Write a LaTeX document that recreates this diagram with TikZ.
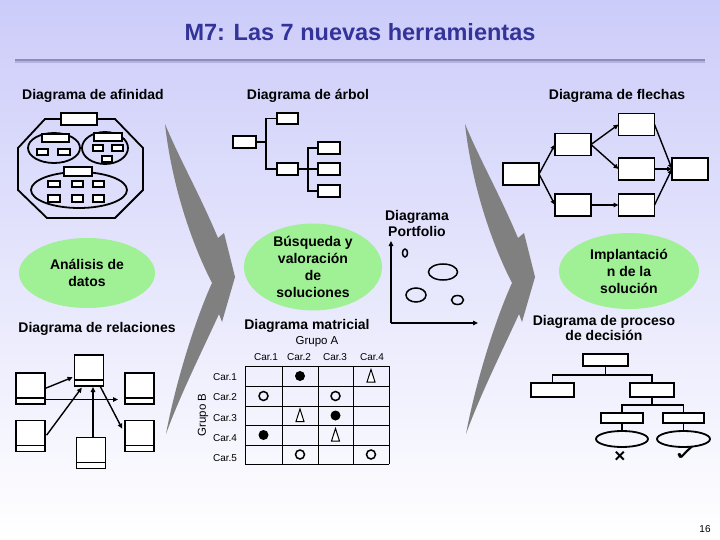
\documentclass[tikz,border=0pt]{standalone}
\usepackage{fontspec}
\setmainfont{Liberation Sans}
\newfontfamily\dejavu{DejaVu Sans}
\usetikzlibrary{shapes.geometric,arrows.meta}
\definecolor{bgtop}{RGB}{204,204,250}
\definecolor{titlec}{RGB}{51,51,153}
\definecolor{gfill}{RGB}{160,240,150}
\definecolor{agray}{RGB}{128,128,128}
\definecolor{linec}{RGB}{140,140,180}
\begin{document}
\begin{tikzpicture}[x=1pt,y=-1pt,
  hdr/.style={font=\fontsize{14}{16}\selectfont\bfseries, inner sep=0, align=center},
  gell/.style={ellipse, fill=gfill, inner sep=0, font=\fontsize{14}{17}\selectfont\bfseries, align=center},
  thk/.style={line width=1.8pt},
  bx/.style={draw, line width=1.8pt, fill=white, inner sep=0, outer sep=0},
  arr/.style={line width=1.4pt, -{Triangle[length=5pt,width=4.5pt]}},
  sm/.style={font=\fontsize{10}{12}\selectfont, inner sep=0},
  gridl/.style={line width=0.9pt},
  oc/.style={draw, line width=1.5pt},
  bigarrow/.style={fill=agray}
]
\shade[top color=bgtop, bottom color=white] (0,0) rectangle (720,540);
\useasboundingbox (0,0) rectangle (720,540);

% title
\node[font=\fontsize{23.5}{28}\selectfont\bfseries, text=titlec, inner sep=0] (title) at (360,32) {M7: Las 7 nuevas herramientas};
\draw[line width=1.5pt, color=linec!40!bgtop] (15,62) -- (705,62);
\draw[line width=2pt, color=linec] (15,60) -- (705,60);

% headings
\node[hdr] (hafin) at (93,96) {Diagrama de afinidad};
\node[hdr] (harbol) at (308,96) {Diagrama de árbol};
\node[hdr] (hflech) at (617,96) {Diagrama de flechas};
\node[hdr] (hrel) at (97,329) {Diagrama de relaciones};
\node[hdr] (hmat) at (307,326) {Diagrama matricial};
\node[hdr, font=\fontsize{14}{16}\selectfont\bfseries] (hport) at (417,223) {Diagrama\\Portfolio};
\node[hdr, font=\fontsize{14}{15}\selectfont\bfseries] (hpdpc) at (604,328) {Diagrama de proceso\\de decisión};

% green ellipses
\node[gell, minimum width=136, minimum height=70] (e1) at (87,273) {Análisis de\\datos};
\node[gell, minimum width=138, minimum height=86] (e2) at (313,267) {Búsqueda y\\valoración\\de\\soluciones};
\node[gell, minimum width=140, minimum height=76] (e3) at (629,271) {Implantació\\n de la\\solución};

% big gray arrows
\fill[bigarrow] (165,124) .. controls (180,160) and (200,195) .. (218,238) -- (224,233) -- (235,277) -- (222,322) -- (219,314) .. controls (205,345) and (180,395) .. (166,434) .. controls (175,385) and (195,320) .. (212,283) .. controls (185,230) and (170,170) .. (165,124) -- cycle;
\begin{scope}[xshift=300pt]
\fill[bigarrow] (165,124) .. controls (180,160) and (200,195) .. (218,238) -- (224,233) -- (235,277) -- (222,322) -- (219,314) .. controls (205,345) and (180,395) .. (166,434) .. controls (175,385) and (195,320) .. (212,283) .. controls (185,230) and (170,170) .. (165,124) -- cycle;
\end{scope}

% affinity diagram
\draw[thk] (45,119) -- (115,119) -- (143,148) -- (143,190) -- (115,218) -- (47,218) -- (18,190) -- (18,148) -- cycle;
\draw[thk] (54,148) ellipse [x radius=26, y radius=15];
\draw[thk] (105,148) ellipse [x radius=23, y radius=16];
\draw[thk] (79,190) ellipse [x radius=48, y radius=18];
\draw[thk, fill=white] (61,113) rectangle (97,125);
\draw[thk, fill=white] (42,134) rectangle (69,142);
\draw[thk, fill=white] (37,149) rectangle (48,155);
\draw[thk, fill=white] (58,149) rectangle (70,155);
\draw[thk, fill=white] (94,133) rectangle (122,141);
\draw[thk, fill=white] (93,145) rectangle (103,151);
\draw[thk, fill=white] (112,145) rectangle (123,151);
\draw[thk, fill=white] (102,156) rectangle (112,162);
\draw[thk, fill=white] (64,167) rectangle (92,176);
\foreach \xa/\xb in {48/60,72/83,93/104}{
  \draw[thk, fill=white] (\xa,181) rectangle (\xb,187);
  \draw[thk, fill=white] (\xa,195) rectangle (\xb,202);
}

% tree diagram
\node[bx, minimum width=23, minimum height=12] (t0) at (244.5,142) {};
\node[bx, minimum width=21, minimum height=11] (t1) at (287.5,118.5) {};
\node[bx, minimum width=21, minimum height=12] (t2) at (287.5,169) {};
\node[bx, minimum width=22, minimum height=12] (t3) at (329,148) {};
\node[bx, minimum width=22, minimum height=12] (t4) at (329,169) {};
\node[bx, minimum width=22, minimum height=12] (t5) at (329,191) {};
\coordinate (tj1) at (266,142);
\coordinate (tj2) at (308,169);
\draw[thk] (t0.east) -- (tj1);
\draw[thk] (t1.west) -| (tj1);
\draw[thk] (t2.west) -| (tj1);
\draw[thk] (t2.east) -- (tj2);
\draw[thk] (t3.west) -| (tj2);
\draw[thk] (t4.west) -- (tj2);
\draw[thk] (t5.west) -| (tj2);

% arrow diagram
\foreach \n/\x/\y in {fa/521/174, fb/573/144.5, fc/573/205, fd/636.5/124.5, fe/636.5/169, ff/636.5/205, fg/690/169}
  \node[bx, minimum width=36, minimum height=22] (\n) at (\x,\y) {};
\draw[arr] (fa.east) -- (fb.west);
\draw[arr] (fa.east) -- (fc.west);
\draw[arr] (fb.east) -- (fd.west);
\draw[arr] (fb.east) -- (fe.west);
\draw[arr] (fc.east) -- (ff.west);
\draw[arr] (fd.east) -- (fg.west);
\draw[arr] (fe.east) -- (fg.west);
\draw[arr] (ff.east) -- (fg.west);

% relations diagram
\foreach \n/\x/\y in {r1/30.5/388.5, rt/89/370.5, r3/139.5/388.5, r4/30.5/436, r5/139.5/436, rb/91/453}{
  \node[bx, fill=white, minimum width=29, minimum height=31] (\n) at (\x,\y) {};
  \draw[thk] ([yshift=6pt]\n.south west) -- ([yshift=6pt]\n.south east);
}
\draw[arr, shorten >=2pt] (r1.east) -- ([yshift=-6pt]rt.west);
\draw[arr, shorten >=7pt] ([yshift=-11pt]r1.east) -- ([yshift=-11pt]r3.west);
\draw[arr, shorten <=1pt, shorten >=2pt] ([xshift=1pt]r4.east) -- ([xshift=-6pt]rt.south);
\draw[arr, shorten >=1pt] ([xshift=2pt]rb.north) -- ([xshift=4pt]rt.south);
\draw[arr, shorten >=6pt] ([xshift=11pt]rt.south) -- ([yshift=2pt]r5.west);

% matrix diagram
\node[font=\fontsize{11.5}{13}\selectfont, inner sep=0] (ga) at (317,342) {Grupo A};
\node[font=\fontsize{11.5}{13}\selectfont, inner sep=0, rotate=90] (gb) at (203,415) {Grupo B};
\foreach \i/\x in {1/266,2/299,3/335,4/372}
  \node[sm] (cA\i) at (\x,357) {Car.\i};
\foreach \i/\y in {1/377,2/397,3/418,4/438,5/458}
  \node[sm] (cB\i) at (225,\y) {Car.\i};
\foreach \x in {245,282,318,353,389} \draw[gridl] (\x,366) -- (\x,464);
\foreach \y in {366,386,406,425,445,464} \draw[gridl] (245,\y) -- (389,\y);
\foreach \x/\y in {300/376, 335.5/415.5, 263.5/435}
  \fill (\x,\y) circle [radius=5];
\foreach \x/\y in {263.5/396, 335.5/396, 300/454.5, 371/454.5}
  \draw[oc] (\x,\y) circle [radius=4.5];
\foreach \x/\y in {371/376, 300/415.5, 335.5/435}
  \draw[line width=1pt, fill=white] (\x,\y-6.5) -- (\x+4,\y+6) -- (\x-4,\y+6) -- cycle;

% portfolio
\coordinate (po) at (391,323);
\coordinate (pyax) at (391,241);
\coordinate (pxax) at (478,323);
\draw[arr] (po) -- (pyax);
\draw[arr] (po) -- (pxax);
\draw[line width=1.5pt] (405,253) ellipse [x radius=2.5, y radius=4];
\draw[line width=1.5pt] (443,272) ellipse [x radius=14.5, y radius=8];
\draw[line width=1.5pt] (416,295) ellipse [x radius=10, y radius=7];
\draw[line width=1.5pt] (457.5,300) ellipse [x radius=6, y radius=4.5];

% PDPC
\node[bx, minimum width=45, minimum height=12] (p0) at (605.5,360) {};
\node[bx, minimum width=43, minimum height=14] (p1) at (552.5,390) {};
\node[bx, minimum width=44, minimum height=14] (p2) at (652,390) {};
\node[bx, minimum width=42, minimum height=10] (p3) at (622,418) {};
\node[bx, minimum width=41, minimum height=10] (p4) at (683.5,418) {};
\node[ellipse, draw, line width=1.8pt, minimum width=52, minimum height=16, inner sep=0] (pe1) at (622,439) {};
\node[ellipse, draw, line width=1.8pt, minimum width=53, minimum height=16, inner sep=0] (pe2) at (683.5,439) {};
\coordinate (pj1) at (605.5,375);
\coordinate (pj2) at (652,405);
\draw[thk] (p0.south) -- (pj1);
\draw[thk] (p1.north) |- (pj1);
\draw[thk] (p2.north) |- (pj1);
\draw[thk] (p2.south) -- (pj2);
\draw[thk] (p3.north) |- (pj2);
\draw[thk] (p4.north) |- (pj2);
\draw[thk] (p3.south) -- (pe1.north);
\draw[thk] (p4.south) -- (pe2.north);
\node[font=\fontsize{19}{19}\selectfont\bfseries, inner sep=0] (xmark) at (620,457) {×};
\node[font=\dejavu\fontsize{22}{22}\selectfont, inner sep=0, xscale=1.4] (cmark) at (686,454) {✓};

% page number
\node[font=\fontsize{10}{12}\selectfont, inner sep=0] (pnum) at (705,529) {16};
\end{tikzpicture}
\end{document}
